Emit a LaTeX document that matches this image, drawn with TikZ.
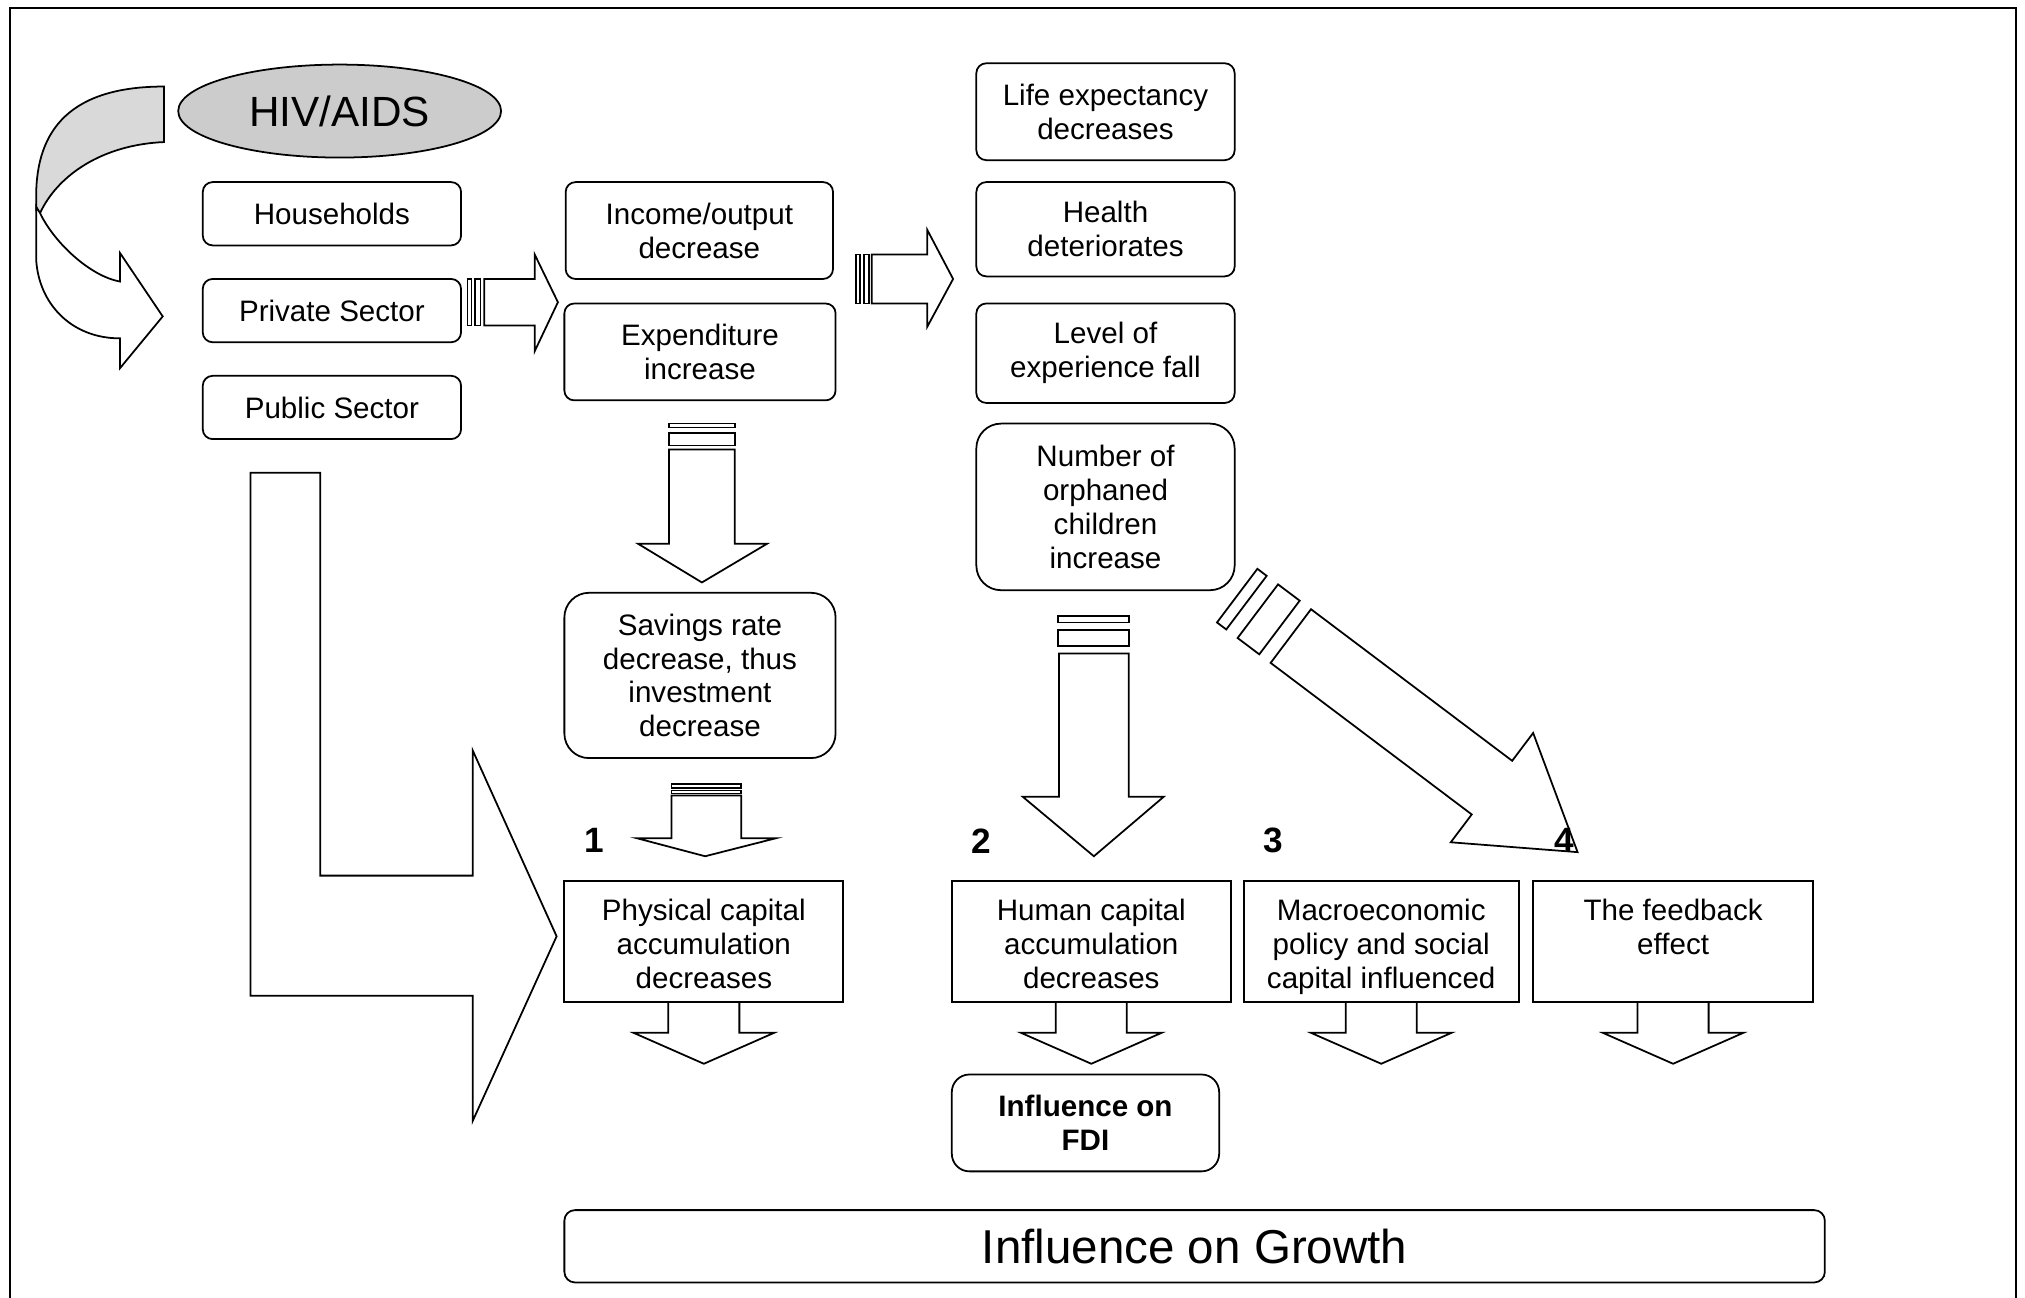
\documentclass[tikz,border=0pt]{standalone}
\usepackage{fontspec}
\setmainfont{Liberation Sans}
\usetikzlibrary{shapes.geometric}
\newcommand\myu{0.0129cm}
\newcommand\toprule{\rule{0pt}{10.4pt}}
\begin{document}
\begin{tikzpicture}[x=0.0129cm,y=-0.0129cm,line width=0.5pt,line join=miter,
  txt/.style={font=\fontsize{8.4}{9.6}\selectfont, align=center},
  rbox/.style={txt, draw, rounded corners=2.8pt, inner sep=0pt},
  bigr/.style={rbox, rounded corners=7pt},
  sqbox/.style={txt, draw, inner sep=0pt},
  blk/.style={draw, fill=white, line join=miter},
  num/.style={font=\fontsize{10}{12}\selectfont\bfseries, inner sep=0pt},
  downblk/.pic={\draw[blk] (-27.5,0) -- (-27.5,23) -- (-54.5,23) -- (0,47) -- (54.5,23) -- (27.5,23) -- (27.5,0);}
]
\useasboundingbox (0,0) rectangle (1568,1005);
% frame
\draw (8,1005) -- (8,6) -- (1561,6) -- (1561,1005);

% HIV/AIDS
\node[ellipse, draw, fill=gray!40, minimum width=250*\myu, minimum height=72*\myu, inner sep=0pt,
      font=\fontsize{12}{14}\selectfont] (hiv) at (263,86) {HIV/AIDS};

% curved arrow
\draw[fill=gray!30] (127,67) -- (127,110) .. controls (80,112) and (45,135) .. (31,165) -- (28,163) -- (28,152)
      .. controls (28,100) and (55,67) .. (127,67) -- cycle;
\draw[fill=white] (28,160) -- (28,201) .. controls (30,235) and (55,262) .. (93,262) -- (93,285) -- (126,245)
      -- (93,196) -- (93,218) .. controls (70,214) and (42,188) .. (31,165) -- cycle;

% left column
\node[rbox, minimum width=200*\myu, minimum height=49*\myu] (hh) at (257,165.5) {Households};
\node[rbox, minimum width=200*\myu, minimum height=49*\myu] (ps) at (257,240.5) {Private Sector};
\node[rbox, minimum width=200*\myu, minimum height=49*\myu] (pub) at (257,315.5) {Public Sector};

% middle column
\node[rbox, minimum width=207*\myu, minimum height=75*\myu] (inc) at (541.5,178.5) {Income/output\\decrease};
\node[rbox, minimum width=210*\myu, minimum height=75*\myu] (exp) at (542,272.5) {Expenditure\\increase};
\node[bigr, minimum width=210*\myu, minimum height=128*\myu] (sav) at (542,523) {Savings rate\\decrease, thus\\investment\\decrease};

% right column
\node[rbox, minimum width=200*\myu, minimum height=75*\myu] (life) at (856,86.5) {Life expectancy\\decreases};
\node[rbox, minimum width=200*\myu, minimum height=73*\myu] (health) at (856,177.5) {Health\\deteriorates};
\node[rbox, minimum width=200*\myu, minimum height=77*\myu] (level) at (856,273.5) {Level of\\experience fall};
\node[bigr, minimum width=200*\myu, minimum height=129*\myu] (orph) at (856,392.5) {Number of\\orphaned\\children\\increase};

% striped arrow Private -> Income/Expenditure
\draw[blk] (362,216) rectangle (365,252);
\draw[blk] (368,216) rectangle (372,252);
\draw[blk] (375,216) -- (414,216) -- (414,197) -- (432,234) -- (414,272) -- (414,252) -- (375,252) -- cycle;

% striped arrow Income -> right column
\draw[blk] (663,197) rectangle (666,235);
\draw[blk] (669,197) rectangle (673,235);
\draw[blk] (675,197) -- (718,197) -- (718,178) -- (738,216) -- (718,253) -- (718,235) -- (675,235) -- cycle;

% Expenditure -> Savings
\draw[blk] (518,328) rectangle (569,331);
\draw[blk] (518,335) rectangle (569,345);
\draw[blk] (518,348) -- (518,421) -- (494,421) -- (543.5,451) -- (594,421) -- (569,421) -- (569,348) -- cycle;

% Savings -> Physical
\draw[blk] (520,607) rectangle (574,610);
\draw[blk] (520,612) rectangle (574,614.5);
\draw[blk] (520,616) -- (520,649) -- (493,649) -- (546,663) -- (601,649) -- (574,649) -- (574,616) -- cycle;

% Orphans -> Human
\draw[blk] (819,477) rectangle (874,482);
\draw[blk] (819,488) rectangle (874,500);
\draw[blk] (820,506) -- (820,617) -- (792,617) -- (847,663) -- (901,617) -- (874,617) -- (874,506) -- cycle;

% Orphans -> feedback (diagonal)
\begin{scope}[shift={(999.5,492.5)}, rotate=-37]
\draw[blk] (-52,-26) rectangle (-43,26);
\draw[blk] (-32,-26) rectangle (-11,26);
\draw[blk] (0,-26) -- (195,-26) -- (195,-53) -- (278,0) -- (195,53) -- (195,26) -- (0,26) -- cycle;
\end{scope}

% L arrow from sectors to physical capital
\draw[blk] (194,366) -- (248,366) -- (248,678) -- (366,678) -- (366,581) -- (431,725) -- (366,868)
      -- (366,771) -- (194,771) -- cycle;

% bottom row
\node[sqbox, minimum width=216*\myu, minimum height=94*\myu] (phys) at (545,729) {\toprule Physical capital\\accumulation\\decreases\strut};
\node[sqbox, minimum width=216*\myu, minimum height=94*\myu] (hum) at (845,729) {\toprule Human capital\\accumulation\\decreases\strut};
\node[sqbox, minimum width=213*\myu, minimum height=94*\myu] (mac) at (1069.5,729) {\toprule Macroeconomic\\policy and social\\capital influenced\strut};
\node[sqbox, minimum width=217*\myu, minimum height=94*\myu] (feed) at (1295.5,729) {\toprule The feedback\\effect\\\strut};

\pic at (phys.south) {downblk};
\pic at (hum.south) {downblk};
\pic at (mac.south) {downblk};
\pic at (feed.south) {downblk};

% numbers
\node[num] (n1) at (460,651) {1};
\node[num] (n2) at (760,651) {2};
\node[num] (n3) at (986,651) {3};
\node[num] (n4) at (1211,651) {4};

% results
\node[rbox, rounded corners=5pt, minimum width=207*\myu, minimum height=75*\myu, font=\fontsize{8.4}{9.6}\selectfont\bfseries] (fdi) at (840.5,869.5) {Influence on\\FDI};
\node[rbox, rounded corners=3pt, minimum width=976*\myu, minimum height=56*\myu, font=\fontsize{13.5}{16}\selectfont] (grow) at (925,965) {Influence on Growth};
\end{tikzpicture}
\end{document}
